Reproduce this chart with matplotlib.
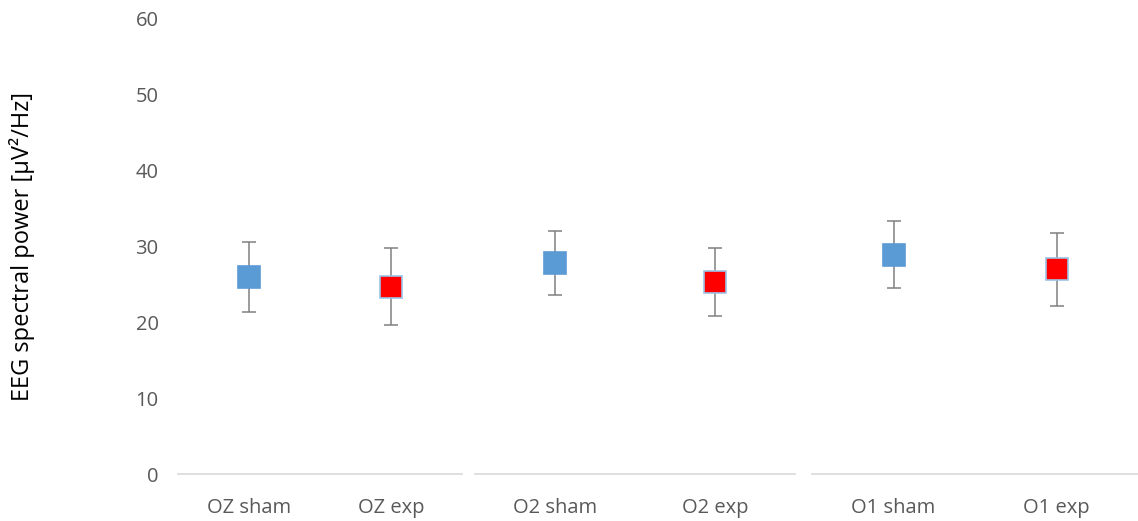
import numpy as np
import matplotlib.pyplot as plt

plt.rcParams['font.family'] = ['Open Sans', 'DejaVu Sans']

# three panels, each with sham / exp
groups = [["OZ sham", "OZ exp"], ["O2 sham", "O2 exp"], ["O1 sham", "O1 exp"]]
means = [[26.0, 24.7], [27.8, 25.3], [28.9, 27.0]]
errs = [[4.6, 5.1], [4.2, 4.5], [4.4, 4.8]]
colors = ["#5B9BD5", "#FF0000"]
edges = ["#5B9BD5", "#9DC3E6"]

fig = plt.figure(figsize=(11.38, 5.21), dpi=100)
W, H = 1138, 521
panels = [(178, 462), (475, 795), (812, 1138)]
bottom = (H - 474) / H
height = (474 - 19) / H

for i, (x0, x1) in enumerate(panels):
    ax = fig.add_axes([x0 / W, bottom, (x1 - x0) / W, height])
    xs = np.array([0.5, 1.5])
    for j in range(2):
        ax.errorbar(xs[j], means[i][j], yerr=errs[i][j], fmt="none",
                    ecolor="#808080", elinewidth=1.1, capsize=5, capthick=1.1,
                    zorder=2)
        ax.plot(xs[j], means[i][j], marker="s", markersize=16,
                markerfacecolor=colors[j], markeredgecolor=edges[j],
                markeredgewidth=1.2, linestyle="none", zorder=3)
    ax.set_xlim(0, 2)
    ax.set_ylim(0, 60)
    ax.set_xticks(xs)
    ax.set_xticklabels(groups[i], fontsize=14.5, color="#595959")
    ax.tick_params(axis="x", length=0, pad=17)
    for s in ["top", "right", "left"]:
        ax.spines[s].set_visible(False)
    ax.spines["bottom"].set_color("#D9D9D9")
    ax.spines["bottom"].set_linewidth(1.2)
    if i == 0:
        ax.set_yticks(np.arange(0, 61, 10))
        ax.tick_params(axis="y", length=0, pad=14, labelsize=14.5,
                       labelcolor="#595959")
        ax.set_ylabel("EEG spectral power [μV²/Hz]", fontsize=17,
                      color="black", labelpad=72)
    else:
        ax.set_yticks([])
    ax.patch.set_alpha(0)

fig.savefig("out.png", dpi=100)
